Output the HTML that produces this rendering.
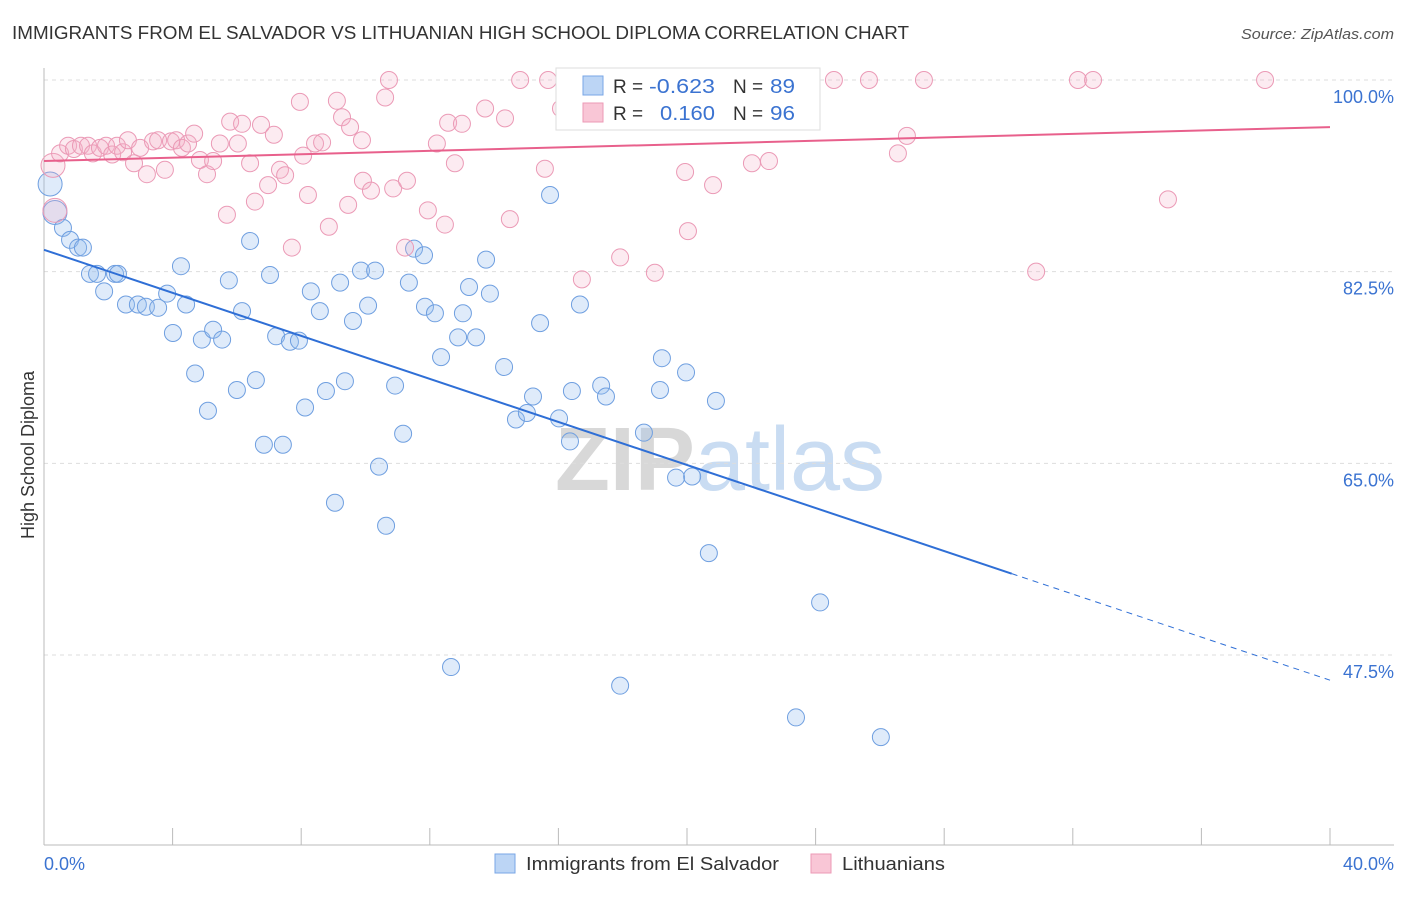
<!DOCTYPE html>
<html><head><meta charset="utf-8">
<style>
body{margin:0;background:#fff;font-family:"Liberation Sans",sans-serif;}
svg text{font-family:"Liberation Sans",sans-serif;}
</style></head>
<body>
<svg id="chart" width="1406" height="892">
<text x="12" y="39" font-size="18" fill="#333" textLength="897" lengthAdjust="spacingAndGlyphs">IMMIGRANTS FROM EL SALVADOR VS LITHUANIAN HIGH SCHOOL DIPLOMA CORRELATION CHART</text>
<text x="1241" y="39" font-size="15" fill="#555" textLength="153" lengthAdjust="spacingAndGlyphs" font-style="italic">Source: ZipAtlas.com</text>
<text x="720" y="490" font-size="90" fill="#ddd" text-anchor="middle"><tspan font-weight="bold" fill="#d8d8d8">ZIP</tspan><tspan fill="#c9dcf2">atlas</tspan></text>
<g id="grid"></g>
<g id="axes"></g>
<g id="pts"></g>
<g id="lines"></g>
<text transform="translate(34,455) rotate(-90)" font-size="18" fill="#333" text-anchor="middle">High School Diploma</text>
<text x="44" y="870" font-size="18" fill="#3b73d1">0.0%</text>
<text x="1394" y="870" font-size="18" fill="#3b73d1" text-anchor="end">40.0%</text>
<g>
<rect x="556" y="68" width="264" height="62" fill="#fff" stroke="#ddd"/>
<rect x="583" y="76" width="20" height="19" fill="#bcd5f5" stroke="#78a6e6"/>
<rect x="583" y="103" width="20" height="19" fill="#f9c6d6" stroke="#ec9ab6"/>
<text x="613" y="93" font-size="19" fill="#333">R = </text>
<text x="649" y="93" font-size="20" fill="#3b73d1" textLength="66" lengthAdjust="spacingAndGlyphs">-0.623</text>
<text x="733" y="93" font-size="19" fill="#333">N = </text>
<text x="770" y="93" font-size="20" fill="#3b73d1" textLength="25" lengthAdjust="spacingAndGlyphs">89</text>
<text x="613" y="120" font-size="19" fill="#333">R = </text>
<text x="660" y="120" font-size="20" fill="#3b73d1" textLength="55" lengthAdjust="spacingAndGlyphs">0.160</text>
<text x="733" y="120" font-size="19" fill="#333">N = </text>
<text x="770" y="120" font-size="20" fill="#3b73d1" textLength="25" lengthAdjust="spacingAndGlyphs">96</text>
</g>
<g>
<rect x="495" y="854" width="20" height="19" fill="#bcd5f5" stroke="#78a6e6"/>
<text x="526" y="870" font-size="18" fill="#333" textLength="253" lengthAdjust="spacingAndGlyphs">Immigrants from El Salvador</text>
<rect x="811" y="854" width="20" height="19" fill="#f9c6d6" stroke="#ec9ab6"/>
<text x="842" y="870" font-size="18" fill="#333" textLength="103" lengthAdjust="spacingAndGlyphs">Lithuanians</text>
</g>
</svg>
<script>
const yTicks=[100,82.5,65,47.5];
const yTickLabels=["100.0%","82.5%","65.0%","47.5%"];
const xTicks=[0,4,8,12,16,20,24,28,32,36,40];
const blueX=[0.19,0.34,0.59,0.81,1.06,1.21,1.43,1.65,1.87,2.21,2.30,2.55,2.92,3.17,3.55,3.83,4.01,4.26,4.42,4.70,4.91,5.10,5.26,5.54,5.75,6.00,6.16,6.41,6.59,6.84,7.03,7.22,7.43,7.65,7.93,8.12,8.30,8.58,8.77,9.05,9.21,9.36,9.61,9.86,10.08,10.30,10.42,10.64,10.92,11.17,11.35,11.51,11.82,11.85,12.16,12.35,12.66,12.88,13.03,13.22,13.44,13.75,13.87,14.31,14.68,15.02,15.21,15.43,15.74,16.02,16.36,16.42,16.67,17.33,17.48,17.92,18.66,19.16,19.22,19.66,19.97,20.16,20.68,20.90,23.39,24.14,26.03];
const blueY=[90.5,87.9,86.5,85.4,84.7,84.7,82.3,82.3,80.7,82.3,82.3,79.5,79.5,79.3,79.2,80.5,76.9,83.0,79.5,73.2,76.3,69.8,77.2,76.3,81.7,71.7,78.9,85.3,72.6,66.7,82.2,76.6,66.7,76.1,76.2,70.1,80.7,78.9,71.6,61.4,81.5,72.5,78.0,82.6,79.4,82.6,64.7,59.3,72.1,67.7,81.5,84.6,84.0,79.3,78.7,74.7,46.4,76.5,78.7,81.1,76.5,83.6,80.5,73.8,69.0,69.6,71.1,77.8,89.5,69.1,67.0,71.6,79.5,72.1,71.1,44.7,67.8,71.7,74.6,63.7,73.3,63.8,56.8,70.7,41.8,52.3,40.0];
const pinkX=[0.28,0.34,0.50,0.75,0.93,1.15,1.37,1.52,1.74,1.93,2.12,2.27,2.46,2.61,2.80,2.99,3.20,3.39,3.55,3.76,3.95,4.11,4.29,4.48,4.67,4.85,5.07,5.26,5.47,5.69,5.79,6.03,6.16,6.41,6.56,6.75,6.97,7.15,7.34,7.50,7.71,7.96,8.06,8.21,8.43,8.65,8.86,9.11,9.27,9.46,9.52,9.89,9.92,10.17,10.61,10.73,10.86,11.23,11.29,11.94,12.22,12.47,12.57,12.78,13.00,13.72,14.34,14.49,14.81,15.58,15.68,16.08,16.30,16.73,17.92,18.20,19.00,19.94,20.03,20.81,22.02,22.55,22.64,24.57,25.66,26.56,26.84,27.37,30.86,32.16,32.63,34.96,37.98];
const pinkY=[92.2,88.1,93.3,94.0,93.7,94.0,94.0,93.3,93.8,94.0,93.2,94.0,93.4,94.5,92.4,93.8,91.4,94.4,94.5,91.8,94.4,94.5,93.8,94.2,95.1,92.7,91.4,92.6,94.2,87.7,96.2,94.2,96.0,92.4,88.9,95.9,90.4,95.0,91.8,91.3,84.7,98.0,93.1,89.5,94.2,94.3,86.6,98.1,96.6,88.6,95.7,94.5,90.8,89.9,98.4,100.0,90.1,84.7,90.8,88.1,94.2,86.8,96.1,92.4,96.0,97.4,96.5,87.3,100.0,91.9,100.0,97.4,96.6,81.8,83.8,100.0,82.4,91.6,86.2,90.4,92.4,92.6,100.0,100.0,100.0,93.3,94.9,100.0,82.5,100.0,100.0,89.1,100.0];
const blueTrend=[84.5,45.2]; // at x=0 and x=40
const blueSolidEnd=30.1;
const pinkTrend=[92.6,95.7];

const X=v=>44+v*(1330-44)/40;
const Y=v=>80+(100-v)*(655-80)/52.5;
const NS="http://www.w3.org/2000/svg";
function mk(tag,attrs,parent){const e=document.createElementNS(NS,tag);for(const k in attrs)e.setAttribute(k,attrs[k]);parent.appendChild(e);return e;}
const grid=document.getElementById('grid'),axes=document.getElementById('axes'),pts=document.getElementById('pts'),lines=document.getElementById('lines');
yTicks.forEach((t,i)=>{
  const l=mk('line',{x1:44,x2:1394,y1:Y(t),y2:Y(t),stroke:'#ddd','stroke-dasharray':'4,4'},grid);
  
  
  const tx=mk('text',{x:1394,y:Y(t)+23,'font-size':18,fill:'#3b73d1','text-anchor':'end'},grid);
  tx.textContent=yTickLabels[i];
  
  
});
const xa=mk('line',{x1:44,x2:1394,y1:845,y2:845,stroke:'#bbb'},axes);


const ya=mk('line',{x1:44,x2:44,y1:68,y2:845,stroke:'#bbb'},axes);


xTicks.forEach(t=>{
  const l=mk('line',{x1:X(t),x2:X(t),y1:828,y2:845,stroke:'#bbb'},axes);
  
  
});
blueX.forEach((x,i)=>{
  const c=mk('circle',{cx:X(x),cy:Y(blueY[i]),r:i<2?12:8.5,fill:'rgba(150,190,240,0.3)',stroke:'#6f9fe0','stroke-width':1},pts);
  
  
});
pinkX.forEach((x,i)=>{
  const c=mk('circle',{cx:X(x),cy:Y(pinkY[i]),r:i<2?12:8.5,fill:'rgba(245,175,200,0.25)',stroke:'#eb9ab6','stroke-width':1},pts);
  
  
});
const bAt=x=>blueTrend[0]+(blueTrend[1]-blueTrend[0])*x/40;
const b1=mk('line',{x1:X(0),y1:Y(bAt(0)),x2:X(blueSolidEnd),y2:Y(bAt(blueSolidEnd)),stroke:'#2f6fd6','stroke-width':2},lines);


const b2=mk('line',{x1:X(blueSolidEnd),y1:Y(bAt(blueSolidEnd)),x2:X(40),y2:Y(bAt(40)),stroke:'#2f6fd6','stroke-width':1,'stroke-dasharray':'6,5'},lines);


const p1=mk('line',{x1:X(0),y1:Y(pinkTrend[0]),x2:X(40),y2:Y(pinkTrend[1]),stroke:'#e8608c','stroke-width':2},lines);


</script>
</body></html>
